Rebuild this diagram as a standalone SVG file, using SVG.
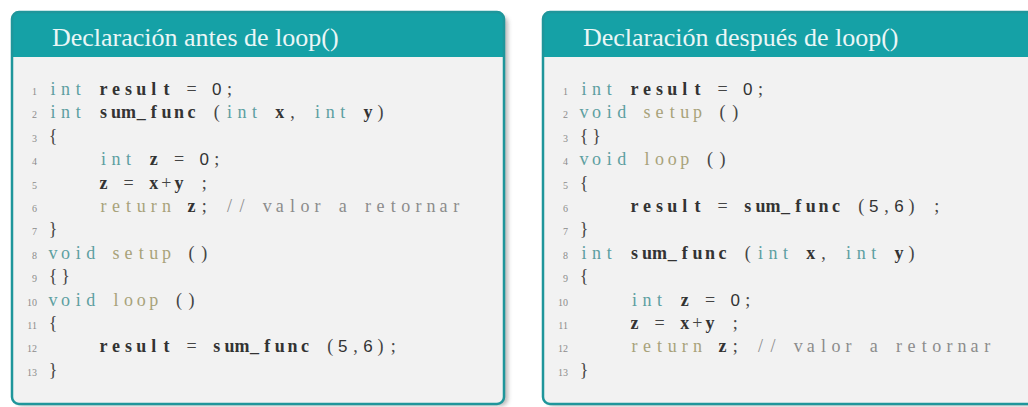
<svg xmlns="http://www.w3.org/2000/svg" width="1028" height="407" viewBox="0 0 1028 407">
  <defs>
    <filter id="soft" x="-5%" y="-5%" width="110%" height="110%">
      <feGaussianBlur stdDeviation="2"/>
    </filter>
    <style>
      .frame { fill: none; stroke: #1f969b; stroke-width: 2.5; }
      .body { fill: #f2f2f2; }
      .head { fill: #15a1a6; }
      .shadow { fill: #9c9c9c; opacity: 0.7; }
      .hd { font-family: "Liberation Serif", "DejaVu Serif", serif; font-size: 26px; fill: #eaf6f6; }
      .ln { font-family: "Liberation Serif", "DejaVu Serif", serif; font-size: 10px; fill: #8c8c8c; text-anchor: end; }
      .c { font-family: "Liberation Serif", "DejaVu Serif", serif; font-size: 18px; text-anchor: middle; fill: #444; }
      .kw { fill: #5d9fa1; }
      .fn { fill: #a8a27a; }
      .id { fill: #333; font-weight: bold; }
      .num { fill: #333; font-family: "Liberation Sans", "DejaVu Sans", sans-serif; font-size: 17px; }
      .cm { fill: #8c8c8c; }
    </style>
  </defs>

  <rect width="1028" height="407" fill="#ffffff"/>

  <!-- Panel: function declared before loop() -->
  <g id="panel-before" transform="translate(12,0)">
    <rect class="shadow" x="4" y="16" width="492" height="390" rx="7" filter="url(#soft)"/>
    <rect class="body" x="0" y="12" width="492" height="392" rx="7"/>
    <path class="head" d="M0,57 V19 A7,7 0 0 1 7,12 H485 A7,7 0 0 1 492,19 V57 Z"/>
    <rect class="frame" x="0" y="12" width="492" height="392" rx="7"/>
    <text class="hd" x="40" y="46">Declaración antes de loop()</text>

    <g class="ln">
      <text x="25" y="95">1</text>
      <text x="25" y="118.4">2</text>
      <text x="25" y="141.8">3</text>
      <text x="25" y="165.2">4</text>
      <text x="25" y="188.6">5</text>
      <text x="25" y="212">6</text>
      <text x="25" y="235.4">7</text>
      <text x="25" y="258.8">8</text>
      <text x="25" y="282.2">9</text>
      <text x="25" y="305.6">10</text>
      <text x="25" y="329">11</text>
      <text x="25" y="352.4">12</text>
      <text x="25" y="375.8">13</text>
    </g>

    <text class="c" y="95"><tspan class="kw" x="41 53.6 66.2">int</tspan><tspan class="id" x="91.4 104 116.6 129.2 141.8 154.4">result</tspan><tspan x="179.6">=</tspan><tspan class="num" x="204.8">0</tspan><tspan x="217.4">;</tspan></text>
    <text class="c" y="118.4"><tspan class="kw" x="41 53.6 66.2">int</tspan><tspan class="id" x="91.4 104 116.6 129.2 141.8 154.4 167 179.6">sum_func</tspan><tspan x="204.8">(</tspan><tspan class="kw" x="217.4 230 242.6">int</tspan><tspan class="id" x="267.8">x</tspan><tspan x="280.4">,</tspan><tspan class="kw" x="305.6 318.2 330.8">int</tspan><tspan class="id" x="356">y</tspan><tspan x="368.6">)</tspan></text>
    <text class="c" y="141.8"><tspan x="41">{</tspan></text>
    <text class="c" y="165.2"><tspan class="kw" x="91.4 104 116.6">int</tspan><tspan class="id" x="141.8">z</tspan><tspan x="167">=</tspan><tspan class="num" x="192.2">0</tspan><tspan x="204.8">;</tspan></text>
    <text class="c" y="188.6"><tspan class="id" x="91.4">z</tspan><tspan x="116.6">=</tspan><tspan class="id" x="141.8">x</tspan><tspan x="154.4">+</tspan><tspan class="id" x="167">y</tspan><tspan x="192.2">;</tspan></text>
    <text class="c" y="212"><tspan class="fn" x="91.4 104 116.6 129.2 141.8 154.4">return</tspan><tspan class="id" x="179.6">z</tspan><tspan x="192.2">;</tspan><tspan class="cm" x="217.4 230">//</tspan><tspan class="cm" x="255.2 267.8 280.4 293 305.6">valor</tspan><tspan class="cm" x="330.8">a</tspan><tspan class="cm" x="356 368.6 381.2 393.8 406.4 419 431.6 444.2">retornar</tspan></text>
    <text class="c" y="235.4"><tspan x="41">}</tspan></text>
    <text class="c" y="258.8"><tspan class="kw" x="41 53.6 66.2 78.8">void</tspan><tspan class="fn" x="104 116.6 129.2 141.8 154.4">setup</tspan><tspan x="179.6 192.2">()</tspan></text>
    <text class="c" y="282.2"><tspan x="41 53.6">{}</tspan></text>
    <text class="c" y="305.6"><tspan class="kw" x="41 53.6 66.2 78.8">void</tspan><tspan class="fn" x="104 116.6 129.2 141.8">loop</tspan><tspan x="167 179.6">()</tspan></text>
    <text class="c" y="329"><tspan x="41">{</tspan></text>
    <text class="c" y="352.4"><tspan class="id" x="91.4 104 116.6 129.2 141.8 154.4">result</tspan><tspan x="179.6">=</tspan><tspan class="id" x="204.8 217.4 230 242.6 255.2 267.8 280.4 293">sum_func</tspan><tspan x="318.2">(</tspan><tspan class="num" x="330.8">5</tspan><tspan x="343.4">,</tspan><tspan class="num" x="356">6</tspan><tspan x="368.6 381.2">);</tspan></text>
    <text class="c" y="375.8"><tspan x="41">}</tspan></text>
  </g>

  <!-- Panel: function declared after loop() -->
  <g id="panel-after" transform="translate(543,0)">
    <rect class="shadow" x="4" y="16" width="492" height="390" rx="7" filter="url(#soft)"/>
    <rect class="body" x="0" y="12" width="492" height="392" rx="7"/>
    <path class="head" d="M0,57 V19 A7,7 0 0 1 7,12 H485 A7,7 0 0 1 492,19 V57 Z"/>
    <rect class="frame" x="0" y="12" width="492" height="392" rx="7"/>
    <text class="hd" x="40" y="46">Declaración después de loop()</text>

    <g class="ln">
      <text x="25" y="95">1</text>
      <text x="25" y="118.4">2</text>
      <text x="25" y="141.8">3</text>
      <text x="25" y="165.2">4</text>
      <text x="25" y="188.6">5</text>
      <text x="25" y="212">6</text>
      <text x="25" y="235.4">7</text>
      <text x="25" y="258.8">8</text>
      <text x="25" y="282.2">9</text>
      <text x="25" y="305.6">10</text>
      <text x="25" y="329">11</text>
      <text x="25" y="352.4">12</text>
      <text x="25" y="375.8">13</text>
    </g>

    <text class="c" y="95"><tspan class="kw" x="41 53.6 66.2">int</tspan><tspan class="id" x="91.4 104 116.6 129.2 141.8 154.4">result</tspan><tspan x="179.6">=</tspan><tspan class="num" x="204.8">0</tspan><tspan x="217.4">;</tspan></text>
    <text class="c" y="118.4"><tspan class="kw" x="41 53.6 66.2 78.8">void</tspan><tspan class="fn" x="104 116.6 129.2 141.8 154.4">setup</tspan><tspan x="179.6 192.2">()</tspan></text>
    <text class="c" y="141.8"><tspan x="41 53.6">{}</tspan></text>
    <text class="c" y="165.2"><tspan class="kw" x="41 53.6 66.2 78.8">void</tspan><tspan class="fn" x="104 116.6 129.2 141.8">loop</tspan><tspan x="167 179.6">()</tspan></text>
    <text class="c" y="188.6"><tspan x="41">{</tspan></text>
    <text class="c" y="212"><tspan class="id" x="91.4 104 116.6 129.2 141.8 154.4">result</tspan><tspan x="179.6">=</tspan><tspan class="id" x="204.8 217.4 230 242.6 255.2 267.8 280.4 293">sum_func</tspan><tspan x="318.2">(</tspan><tspan class="num" x="330.8">5</tspan><tspan x="343.4">,</tspan><tspan class="num" x="356">6</tspan><tspan x="368.6">)</tspan><tspan x="393.8">;</tspan></text>
    <text class="c" y="235.4"><tspan x="41">}</tspan></text>
    <text class="c" y="258.8"><tspan class="kw" x="41 53.6 66.2">int</tspan><tspan class="id" x="91.4 104 116.6 129.2 141.8 154.4 167 179.6">sum_func</tspan><tspan x="204.8">(</tspan><tspan class="kw" x="217.4 230 242.6">int</tspan><tspan class="id" x="267.8">x</tspan><tspan x="280.4">,</tspan><tspan class="kw" x="305.6 318.2 330.8">int</tspan><tspan class="id" x="356">y</tspan><tspan x="368.6">)</tspan></text>
    <text class="c" y="282.2"><tspan x="41">{</tspan></text>
    <text class="c" y="305.6"><tspan class="kw" x="91.4 104 116.6">int</tspan><tspan class="id" x="141.8">z</tspan><tspan x="167">=</tspan><tspan class="num" x="192.2">0</tspan><tspan x="204.8">;</tspan></text>
    <text class="c" y="329"><tspan class="id" x="91.4">z</tspan><tspan x="116.6">=</tspan><tspan class="id" x="141.8">x</tspan><tspan x="154.4">+</tspan><tspan class="id" x="167">y</tspan><tspan x="192.2">;</tspan></text>
    <text class="c" y="352.4"><tspan class="fn" x="91.4 104 116.6 129.2 141.8 154.4">return</tspan><tspan class="id" x="179.6">z</tspan><tspan x="192.2">;</tspan><tspan class="cm" x="217.4 230">//</tspan><tspan class="cm" x="255.2 267.8 280.4 293 305.6">valor</tspan><tspan class="cm" x="330.8">a</tspan><tspan class="cm" x="356 368.6 381.2 393.8 406.4 419 431.6 444.2">retornar</tspan></text>
    <text class="c" y="375.8"><tspan x="41">}</tspan></text>
  </g>
</svg>
